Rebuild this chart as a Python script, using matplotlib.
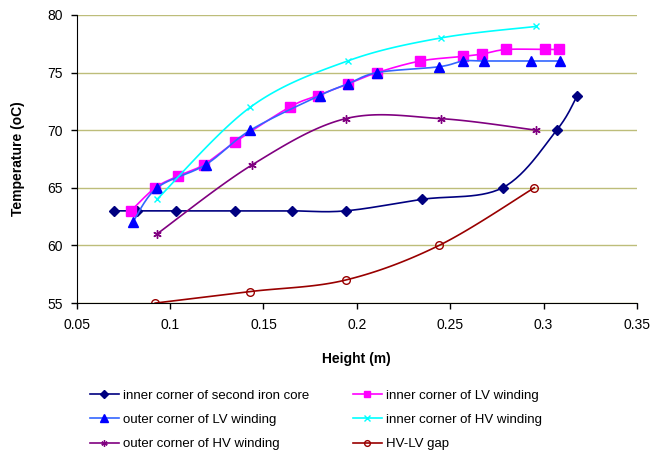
import matplotlib.pyplot as plt
import numpy as np

plt.rcParams['font.family'] = ['Liberation Sans', 'DejaVu Sans']

# data
core_x = [0.070, 0.082, 0.103, 0.135, 0.165, 0.194, 0.235, 0.278, 0.307, 0.318]
core_y = [63, 63, 63, 63, 63, 63, 64, 65, 70, 73]

lv_in_x = [0.079, 0.092, 0.104, 0.118, 0.135, 0.164, 0.179, 0.195, 0.211, 0.234, 0.257, 0.267, 0.280, 0.301, 0.308]
lv_in_y = [63, 65, 66, 67, 69, 72, 73, 74, 75, 76, 76.4, 76.6, 77, 77, 77]

lv_out_x = [0.080, 0.093, 0.119, 0.143, 0.180, 0.195, 0.211, 0.244, 0.257, 0.268, 0.293, 0.309]
lv_out_y = [62, 65, 67, 70, 73, 74, 75, 75.5, 76, 76, 76, 76]

hv_in_x = [0.093, 0.143, 0.195, 0.245, 0.296]
hv_in_y = [64, 72, 76, 78, 79]

hv_out_x = [0.093, 0.144, 0.194, 0.245, 0.296]
hv_out_y = [61, 67, 71, 71, 70]

gap_x = [0.092, 0.143, 0.194, 0.244, 0.295]
gap_y = [55, 56, 57, 60, 65]


def smooth(x, y, n=30):
    # excel-like smoothed line: cubic bezier, catmull-rom control points
    p = np.column_stack([x, y]).astype(float)
    out = [p[0]]
    for i in range(len(p) - 1):
        p0 = p[i - 1] if i > 0 else p[i]
        p1 = p[i]
        p2 = p[i + 1]
        p3 = p[i + 2] if i + 2 < len(p) else p[i + 1]
        c1 = p1 + (p2 - p0) / 6
        c2 = p2 - (p3 - p1) / 6
        t = np.linspace(0, 1, n)[1:, None]
        seg = (1 - t)**3 * p1 + 3 * (1 - t)**2 * t * c1 + 3 * (1 - t) * t**2 * c2 + t**3 * p2
        out.extend(seg)
    out = np.array(out)
    return out[:, 0], out[:, 1]


fig = plt.figure(figsize=(6.56, 4.51), dpi=100)
ax = fig.add_axes([0.117, 0.328, 0.854, 0.639])

series = [
    (core_x, core_y, 'inner corner of second iron core', '#000080', '#000080', 'D', 5.5, 'full'),
    (lv_in_x, lv_in_y, 'inner corner of LV winding', '#FF00FF', '#FF00FF', 's', 6.5, 'full'),
    (lv_out_x, lv_out_y, 'outer corner of LV winding', '#3366FF', '#0000FF', '^', 7, 'full'),
    (hv_in_x, hv_in_y, 'inner corner of HV winding', '#00FFFF', '#00FFFF', 'x', 5, 'full'),
    (hv_out_x, hv_out_y, 'outer corner of HV winding', '#800080', '#800080', (6, 2, 0), 6, 'full'),
    (gap_x, gap_y, 'HV-LV gap', '#990000', '#990000', 'o', 5.5, 'none'),
]

handles = []
for x, y, lab, lc, mc, m, ms, fill in series:
    sx, sy = smooth(x, y)
    ax.plot(sx, sy, color=lc, lw=1.2)
    ax.plot(x, y, ls='none', marker=m, ms=ms, color=mc, mfc=mc if fill == 'full' else 'none',
            mec=mc, mew=1.0)
    h, = ax.plot([], [], color=lc, lw=1.2, marker=m, ms=ms * 0.75, mfc=mc if fill == 'full' else 'none',
                 mec=mc, label=lab)
    handles.append(h)

ax.set_xlim(0.05, 0.35)
ax.set_ylim(55, 80)
ax.set_xticks([0.05, 0.1, 0.15, 0.2, 0.25, 0.3, 0.35])
ax.set_xticklabels(['0.05', '0.1', '0.15', '0.2', '0.25', '0.3', '0.35'])
ax.set_yticks([55, 60, 65, 70, 75, 80])
ax.yaxis.grid(True, color='#BDBD7A', lw=1)
ax.set_axisbelow(True)
for s in ['top', 'right']:
    ax.spines[s].set_visible(False)
ax.tick_params(labelsize=10, length=4, direction='out', width=1)
ax.tick_params(axis='x', pad=7)
ax.tick_params(axis='y', pad=6)
ax.set_xlabel('Height (m)', fontsize=10, fontweight='bold', labelpad=14)
ax.set_ylabel('Temperature (oC)', fontsize=10, fontweight='bold', labelpad=16)

# legend goes row by row in the reference
order = [0, 2, 4, 1, 3, 5]
fig.legend([handles[i] for i in order], [series[i][2] for i in order],
           loc='upper left', bbox_to_anchor=(0.137, 0.136), ncol=2, frameon=False,
           fontsize=9.5, handlelength=2.2, columnspacing=3.3, labelspacing=0.9,
           handletextpad=0.3, borderaxespad=0, borderpad=0)

fig.savefig('out.png', dpi=100)
